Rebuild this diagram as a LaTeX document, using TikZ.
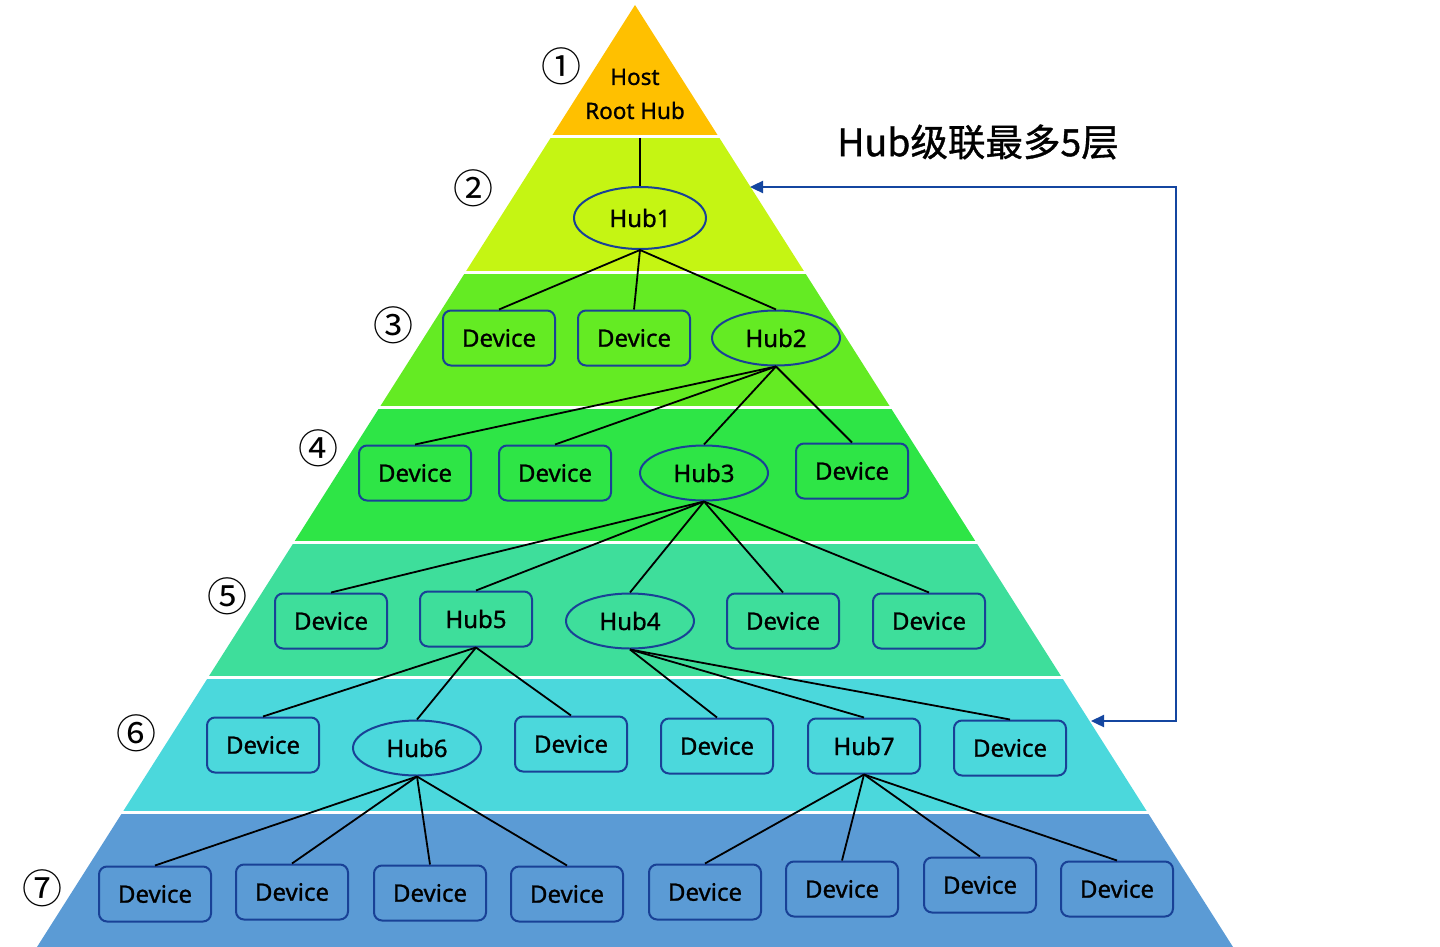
\documentclass[tikz,border=0pt]{standalone}
\usepackage{fontspec}
\setmainfont{Noto Sans}[FakeBold=1.0]
\newfontfamily\cjk{Noto Sans CJK SC}
\newfontfamily\cjkb{Noto Sans CJK SC}[FakeBold=1.0]
\usetikzlibrary{shapes.geometric,arrows.meta}
\definecolor{bandA}{RGB}{255,192,0}
\definecolor{bandB}{RGB}{197,245,19}
\definecolor{bandC}{RGB}{100,235,35}
\definecolor{bandD}{RGB}{46,229,70}
\definecolor{bandE}{RGB}{62,222,155}
\definecolor{bandF}{RGB}{75,216,220}
\definecolor{bandG}{RGB}{91,155,213}
\definecolor{nodeblue}{RGB}{25,65,150}
\definecolor{arrowblue}{RGB}{20,70,160}
\begin{document}
\begin{tikzpicture}[x=1pt,y=-1pt,
  dev/.style={draw=nodeblue, line width=2pt, rounded corners=8pt, minimum width=112pt, minimum height=55pt, inner sep=0pt, font=\bfseries\fontsize{24}{26}\selectfont},
  hub/.style={ellipse, draw=nodeblue, line width=2pt, minimum width=128pt, minimum height=55pt, inner sep=0pt, font=\bfseries\fontsize{24}{26}\selectfont},
  link/.style={line width=1.8pt, black},
  num/.style={font=\cjk\fontsize{40}{42}\selectfont, inner sep=0pt},
  loopline/.style={draw=arrowblue, line width=2.4pt, {Triangle[length=13pt,width=12pt]}-{Triangle[length=13pt,width=12pt]}}]
\useasboundingbox (0,0) rectangle (1440,947);
% pyramid bands
\begin{scope}
\clip (635,5) -- (1233,947) -- (37,947) -- cycle;
\fill[bandA] (0,0) rectangle (1440,137);
\fill[bandB] (0,137) rectangle (1440,272);
\fill[bandC] (0,272) rectangle (1440,407);
\fill[bandD] (0,407) rectangle (1440,542);
\fill[bandE] (0,542) rectangle (1440,677);
\fill[bandF] (0,677) rectangle (1440,812);
\fill[bandG] (0,812) rectangle (1440,947);
\end{scope}
\foreach \y in {137,272,407,542,677,812} \draw[white, line width=3pt] (0,\y) -- (1440,\y);
% level numbers
\node[num] (n1) at (561,66) {①};
\node[num] (n2) at (473,188) {②};
\node[num] (n3) at (393,325) {③};
\node[num] (n4) at (318,448) {④};
\node[num] (n5) at (227,596) {⑤};
\node[num] (n6) at (136,733) {⑥};
\node[num] (n7) at (42,888) {⑦};
% title
\node[font=\cjkb\fontsize{37.5}{40}\selectfont, inner sep=0pt] (title) at (978,142) {Hub级联最多5层};
% host
\node[align=center, font=\bfseries\fontsize{22.5}{34}\selectfont, inner sep=0pt] (host) at (635,94) {Host\\Root Hub};
\coordinate (hostb) at (640,138);
% level 2
\node[hub, minimum width=132pt, minimum height=62pt] (hub1) at (640,218) {Hub1};
% level 3
\node[dev] (d31) at (499,338) {Device};
\node[dev] (d32) at (634,338) {Device};
\node[hub] (hub2) at (776,338) {Hub2};
% level 4
\node[dev] (d41) at (415,473) {Device};
\node[dev] (d42) at (555,473) {Device};
\node[hub] (hub3) at (704,473) {Hub3};
\node[dev] (d43) at (852,471) {Device};
% level 5
\node[dev] (d51) at (331,621) {Device};
\node[dev] (hub5) at (476,619) {Hub5};
\node[hub] (hub4) at (630,621) {Hub4};
\node[dev] (d52) at (783,621) {Device};
\node[dev] (d53) at (929,621) {Device};
% level 6
\node[dev] (d61) at (263,745) {Device};
\node[hub] (hub6) at (417,748) {Hub6};
\node[dev] (d62) at (571,744) {Device};
\node[dev] (d63) at (717,746) {Device};
\node[dev] (hub7) at (864,746) {Hub7};
\node[dev] (d64) at (1010,748) {Device};
% level 7
\node[dev] (d71) at (155,894) {Device};
\node[dev] (d72) at (292,892) {Device};
\node[dev] (d73) at (430,893) {Device};
\node[dev] (d74) at (567,894) {Device};
\node[dev] (d75) at (705,892) {Device};
\node[dev] (d76) at (842,889) {Device};
\node[dev] (d77) at (980,885) {Device};
\node[dev] (d78) at (1117,889) {Device};
% links
\draw[link] (hostb) -- (hub1.north);
\foreach \t in {d31,d32,hub2} \draw[link] (hub1.south) -- (\t.north);
\foreach \t in {d41,d42,hub3,d43} \draw[link] (hub2.south) -- (\t.north);
\foreach \t in {d51,hub5,hub4,d52,d53} \draw[link] (hub3.south) -- (\t.north);
\foreach \t in {d61,hub6,d62} \draw[link] (hub5.south) -- (\t.north);
\foreach \t in {d63,hub7,d64} \draw[link] (hub4.south) -- (\t.north);
\foreach \t in {d71,d72,d73,d74} \draw[link] (hub6.south) -- (\t.north);
\foreach \t in {d75,d76,d77,d78} \draw[link] (hub7.south) -- (\t.north);
% cascade arrow
\coordinate (atop) at (750,187);
\coordinate (abot) at (1091,721);
\coordinate (rtop) at (1176,187);
\coordinate (rbot) at (1176,721);
\draw[loopline] (atop) -- (rtop) -- (rbot) -- (abot);
\end{tikzpicture}
\end{document}
